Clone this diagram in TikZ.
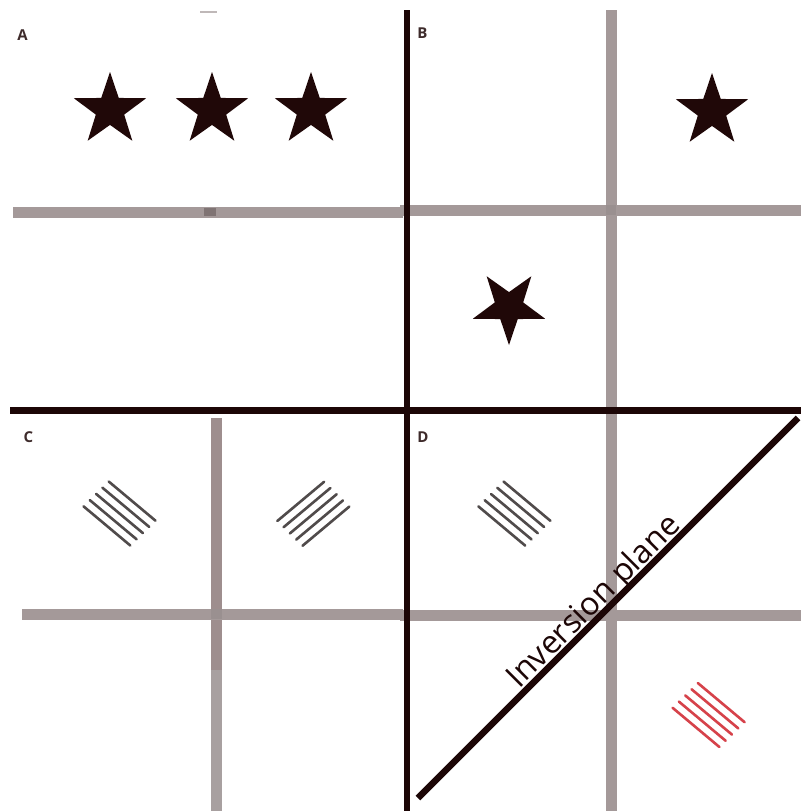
\documentclass[tikz,border=0pt]{standalone}
\usepackage{fontspec}
\setmainfont{Open Sans}
\usetikzlibrary{shapes.geometric}
\definecolor{inkdark}{RGB}{28,6,6}
\definecolor{stardark}{RGB}{32,8,8}
\definecolor{rail}{RGB}{164,153,153}
\definecolor{railpink}{RGB}{158,142,142}
\definecolor{raillight}{RGB}{168,160,160}
\definecolor{railspot}{RGB}{128,116,116}
\definecolor{hatchgray}{RGB}{80,75,75}
\definecolor{hatchred}{RGB}{214,66,74}
\tikzset{
  blackline/.style={draw=inkdark,line width=6.5pt},
  grayline/.style={draw=rail,line width=11pt},
  hatchline/.style={draw=hatchgray,line width=2.6pt,line cap=round},
  redhatch/.style={draw=hatchred,line width=2.6pt,line cap=round},
  bigstar/.style={star,star points=5,star point ratio=2.55,fill=stardark,
    draw=none,inner sep=0pt,minimum size=76pt},
  lbl/.style={font=\bfseries\fontsize{15}{15}\selectfont,text=inkdark!85,inner sep=0pt},
  planelbl/.style={font=\fontsize{32}{32}\selectfont,text=inkdark,inner sep=0pt}
}
\newcommand\hatchdown[3]{%
  \foreach \k in {-2,...,2}{%
    \draw[#3] ({#1+\k*6.3-23.4},{#2-\k*6.2-19.6}) -- ({#1+\k*6.3+23.4},{#2-\k*6.2+19.6});
  }}
\newcommand\hatchup[3]{%
  \foreach \k in {-2,...,2}{%
    \draw[#3] ({#1-\k*6.3-23.4},{#2-\k*6.2+19.6}) -- ({#1-\k*6.3+23.4},{#2-\k*6.2-19.6});
  }}
\begin{document}
\begin{tikzpicture}[x=1pt,y=-1pt]
\useasboundingbox[fill=white] (0,0) rectangle (801,811);
% gray rails
\draw[grayline] (13,212) -- (403,212);
\fill[railspot] (204,208) rectangle (216,216);
\draw[draw=rail!70,line width=2pt] (200,12) -- (217,12);
\draw[grayline] (611,10) -- (611,408);
\draw[grayline] (400,210) -- (801,210);
\fill[railspot!80] (606,205) rectangle (616,215);
\draw[draw=railpink,line width=11pt] (216.5,418) -- (216.5,670);
\draw[draw=raillight,line width=11pt] (216.5,670) -- (216.5,811);
\draw[grayline] (22,614) -- (403,614);
\fill[railspot!80] (211,609) rectangle (222,619);
\draw[grayline] (611,410) -- (611,811);
\draw[grayline] (400,615) -- (801,615);
% black dividers
\coordinate (vtop) at (407,10);
\coordinate (vbot) at (407,811);
\coordinate (hleft) at (10,410.5);
\coordinate (hright) at (801,410.5);
\coordinate (dlow) at (418,798);
\coordinate (dhigh) at (798,418);
\draw[blackline] (vtop) -- (vbot);
\draw[blackline] (hleft) -- (hright);
\draw[blackline] (dlow) -- (dhigh);
% stars
\node[bigstar] (sa1) at (110,110) {};
\node[bigstar] (sa2) at (212,110) {};
\node[bigstar] (sa3) at (311,110) {};
\node[bigstar] (sb1) at (712,111) {};
\node[bigstar,shape border rotate=180] (sb2) at (509,307) {};
% hatches
\hatchdown{119.5}{513.5}{hatchline}
\hatchup{313.3}{513.8}{hatchline}
\hatchdown{514.4}{513.6}{hatchline}
\hatchdown{708.6}{715}{redhatch}
% labels
\node[lbl] (la) at (22.5,35) {A};
\node[lbl] (lb) at (422.5,33) {B};
\node[lbl] (lc) at (28.5,437) {C};
\node[lbl] (ld) at (423,437) {D};
\node[planelbl,rotate=45,anchor=base] (plane) at (600.7,608.2) {Inversion plane};
\end{tikzpicture}
\end{document}
